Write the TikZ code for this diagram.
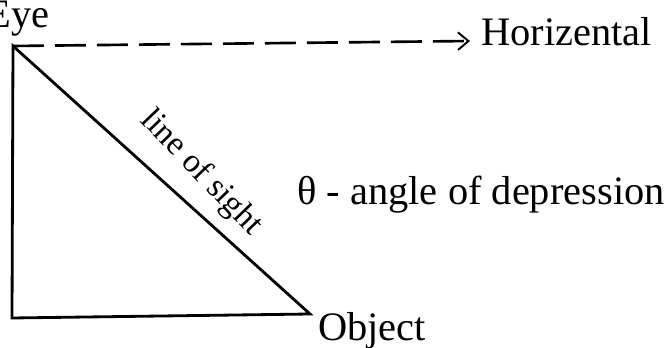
\documentclass[tikz,border=0pt]{standalone}
\usepackage{fontspec}
\setmainfont{Liberation Serif}
\usetikzlibrary{arrows.meta}
\begin{document}
\begin{tikzpicture}[every node/.style={font=\fontsize{23}{27}\selectfont, inner sep=0pt}]
\useasboundingbox (0,0) rectangle (13.34,6.96);
% triangle corners
\coordinate (eye) at (0.26,6.04);
\coordinate (foot) at (0.24,0.60);
\coordinate (obj) at (6.20,0.68);
\coordinate (horizend) at (9.40,6.14);
\draw[line width=1.6pt, line join=miter] (eye)--(foot)--(obj)--cycle;
% horizontal through the eye
\draw[line width=1.5pt, dash pattern=on 0.62cm off 0.22cm, -{Straight Barb[length=6pt, width=10pt, line width=1.1pt]}] (eye)--(horizend);
% labels
\node (eyelbl) at (0.36,6.58) {Eye};
\node[anchor=west] (horizlbl) at (9.62,6.32) {Horizental};
\node[rotate=-46, font=\fontsize{19}{22}\selectfont] (sightlbl) at (4.02,3.50) {line of sight};
\node[anchor=west] (anglelbl) at (5.94,3.06) {θ - angle of depression};
\node[anchor=west] (objlbl) at (6.36,0.34) {Object};
\end{tikzpicture}
\end{document}
